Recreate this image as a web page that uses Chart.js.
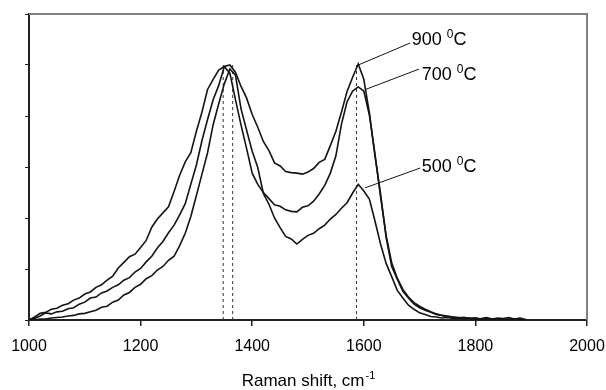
<!DOCTYPE html>
<html><head><meta charset="utf-8">
<script src="https://cdn.jsdelivr.net/npm/chart.js@4"></script>
<style>html,body{margin:0;padding:0;background:#fff}</style>
</head><body>
<canvas id="c" width="606" height="390"></canvas>
<script>
const ramanShift = [1000,1010,1020,1030,1040,1050,1060,1070,1080,1090,1100,1110,1120,1130,1140,1150,1160,1170,1180,1190,1200,1210,1220,1230,1240,1250,1260,1270,1280,1290,1300,1310,1320,1330,1340,1350,1360,1370,1380,1390,1400,1410,1420,1430,1440,1450,1460,1470,1480,1490,1500,1510,1520,1530,1540,1550,1560,1570,1580,1590,1600,1610,1620,1630,1640,1650,1660,1670,1680,1690,1700,1710,1720,1730,1740,1750,1760,1770,1780,1790,1800,1810,1820,1830,1840,1850,1860,1870,1880,1890];
const int900 = [0.00,0.06,0.13,0.15,0.21,0.23,0.29,0.32,0.39,0.43,0.51,0.55,0.64,0.69,0.78,0.86,1.02,1.13,1.24,1.29,1.42,1.56,1.82,1.98,2.10,2.22,2.52,2.84,3.10,3.28,3.70,4.08,4.52,4.72,4.90,4.97,5.00,4.86,4.58,4.35,4.03,3.78,3.50,3.32,3.08,3.02,2.91,2.89,2.88,2.86,2.90,2.97,3.09,3.15,3.42,3.70,4.08,4.48,4.76,5.02,4.72,4.06,3.22,2.48,1.62,1.05,0.80,0.56,0.43,0.31,0.24,0.19,0.15,0.11,0.09,0.06,0.06,0.04,0.05,0.03,0.04,0.02,0.03,0.02,0.01,0.02,0.01,0.02,0.00,0.01];
const int700 = [0.00,0.03,0.08,0.14,0.12,0.16,0.17,0.22,0.24,0.31,0.35,0.43,0.45,0.53,0.57,0.64,0.69,0.78,0.83,0.94,1.01,1.14,1.25,1.41,1.54,1.71,1.86,2.06,2.28,2.66,3.04,3.52,3.93,4.32,4.60,4.97,4.84,4.32,3.82,3.36,2.88,2.66,2.50,2.38,2.26,2.23,2.16,2.13,2.12,2.21,2.24,2.33,2.47,2.64,2.88,3.22,3.84,4.28,4.49,4.57,4.49,4.02,3.26,2.42,1.66,1.12,0.82,0.60,0.45,0.34,0.27,0.21,0.16,0.12,0.09,0.08,0.06,0.05,0.05,0.03,0.04,0.02,0.03,0.01,0.02,0.01,0.02,0.01,0.01,0.00];
const int500 = [0.00,0.00,0.02,0.02,0.04,0.05,0.06,0.08,0.09,0.12,0.13,0.16,0.19,0.25,0.27,0.35,0.39,0.49,0.54,0.64,0.70,0.81,0.87,0.98,1.05,1.17,1.25,1.46,1.70,2.03,2.44,2.86,3.28,3.83,4.24,4.63,4.92,4.80,4.14,3.72,3.31,2.99,2.48,2.27,2.00,1.81,1.64,1.59,1.49,1.58,1.66,1.70,1.79,1.86,1.98,2.07,2.19,2.30,2.49,2.66,2.53,2.37,1.94,1.49,1.11,0.85,0.58,0.43,0.29,0.21,0.14,0.11,0.07,0.06,0.04,0.05,0.03,0.04,0.02,0.04,0.02,0.03,0.05,0.02,0.04,0.03,0.05,0.02,0.04,0.01];
const peakLines = [1348, 1365, 1587];
const peakTop = 5.05;
const seriesNames = ['900', '700', '500'];
const leaderFrom = [[1590, 5.00], [1603, 4.52], [1602, 2.59]];
const leaderTo = [[1683, 5.43], [1699, 4.92], [1701, 2.98]];
const labelPos = [[1686, 5.52], [1704, 4.84], [1704, 3.02]];
const xTicks = [1000, 1200, 1400, 1600, 1800, 2000];

const toPts = arr => ramanShift.map((x, i) => ({x: x, y: arr[i]}));
const lineStyle = {showLine: true, borderColor: '#141414', borderWidth: 1.6, pointRadius: 0, tension: 0, fill: false};
const datasets = [
  Object.assign({data: toPts(int900)}, lineStyle),
  Object.assign({data: toPts(int700)}, lineStyle),
  Object.assign({data: toPts(int500)}, lineStyle)
];
peakLines.forEach(p => datasets.push({showLine: true, data: [{x: p, y: 0}, {x: p, y: peakTop}], borderColor: '#333', borderWidth: 1, borderDash: [3, 3], pointRadius: 0}));
leaderFrom.forEach((f, i) => datasets.push({showLine: true, data: [{x: f[0], y: f[1]}, {x: leaderTo[i][0], y: leaderTo[i][1]}], borderColor: '#141414', borderWidth: 1, pointRadius: 0}));

const FONT = '"Liberation Sans", Arial, sans-serif';
const annot = {
  id: 'annot',
  afterDraw(chart) {
    const {ctx, chartArea: a, scales: {x, y}} = chart;
    ctx.save();
    ctx.strokeStyle = '#808080';
    ctx.lineWidth = 2;
    ctx.beginPath();
    ctx.moveTo(a.left, a.top); ctx.lineTo(a.right, a.top); ctx.lineTo(a.right, a.bottom);
    ctx.stroke();
    ctx.fillStyle = '#000';
    ctx.textBaseline = 'alphabetic';
    ctx.textAlign = 'left';
    seriesNames.forEach((n, i) => {
      let px = x.getPixelForValue(labelPos[i][0]);
      const py = y.getPixelForValue(labelPos[i][1]) + 6.5;
      ctx.font = '18px ' + FONT;
      const t1 = n + ' ';
      ctx.fillText(t1, px, py); px += ctx.measureText(t1).width;
      ctx.font = '12px ' + FONT;
      ctx.fillText('0', px, py - 7); px += ctx.measureText('0').width;
      ctx.font = '18px ' + FONT;
      ctx.fillText('C', px, py);
    });
    ctx.font = '17px ' + FONT;
    const main = 'Raman shift, cm';
    const w1 = ctx.measureText(main).width;
    ctx.font = '11px ' + FONT;
    const w2 = ctx.measureText('-1').width;
    let tx = (a.left + a.right) / 2 - (w1 + w2) / 2;
    const ty = 386;
    ctx.font = '17px ' + FONT;
    ctx.fillText(main, tx, ty);
    ctx.font = '11px ' + FONT;
    ctx.fillText('-1', tx + w1 + 1, ty - 7);
    ctx.restore();
  }
};

new Chart(document.getElementById('c'), {
  type: 'scatter',
  data: {datasets: datasets},
  options: {
    responsive: false, animation: false, devicePixelRatio: 1,
    layout: {padding: {left: 19, top: 14, right: 19, bottom: 0}},
    plugins: {legend: {display: false}, tooltip: {enabled: false}},
    scales: {
      x: {
        type: 'linear', min: 1000, max: 2000,
        afterBuildTicks: s => { s.ticks = xTicks.map(v => ({value: v})); },
        ticks: {color: '#000', font: {family: FONT, size: 16}, padding: 11, maxRotation: 0, autoSkip: false, callback: v => String(v)},
        grid: {drawOnChartArea: false, drawTicks: true, tickLength: 6, color: '#222', lineWidth: 1.5},
        border: {color: '#222', width: 2},
        afterFit: s => { s.height = 70; s.paddingLeft = 0; s.paddingRight = 0; }
      },
      y: {
        min: 0, max: 6,
        ticks: {stepSize: 1, display: false},
        grid: {drawOnChartArea: false, drawTicks: true, tickLength: 4, color: '#222', lineWidth: 1},
        border: {color: '#222', width: 2},
        afterFit: s => { s.width = 10; s.paddingTop = 0; s.paddingBottom = 0; }
      }
    }
  },
  plugins: [annot]
});
</script>
</body></html>
